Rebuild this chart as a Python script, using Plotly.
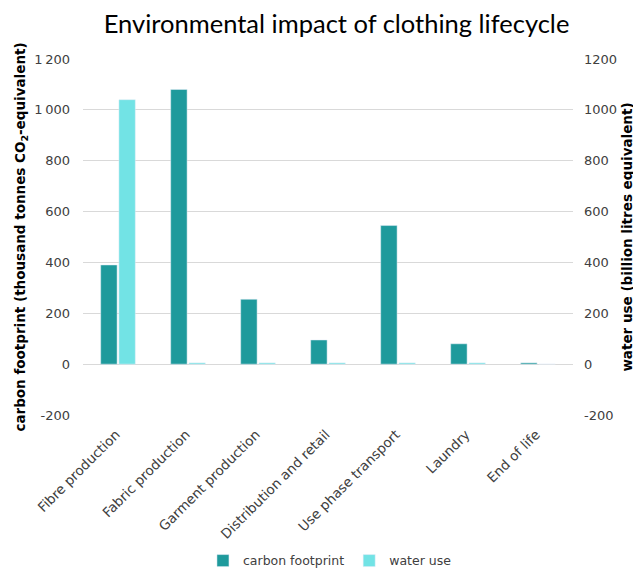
import plotly.graph_objects as go

categories = ["Fibre production", "Fabric production", "Garment production",
              "Distribution and retail", "Use phase transport", "Laundry", "End of life"]
carbon_footprint = [390, 1080, 255, 95, 545, 80, 5]
water_use = [1040, 5, 5, 5, 5, 5, 0]

tick_vals = [-200, 0, 200, 400, 600, 800, 1000, 1200]
left_tick_text = ["-200", "0", "200", "400", "600", "800", "1\u2009000", "1\u2009200"]
right_tick_text = ["-200", "0", "200", "400", "600", "800", "1000", "1200"]

CARBON = "#1e9a9c"
WATER = "#72e3e5"
FONT = "DejaVu Sans"

fig = go.Figure()
fig.add_trace(go.Bar(x=categories, y=carbon_footprint, name="carbon footprint",
                     marker=dict(color=CARBON), offsetgroup="a", yaxis="y"))
fig.add_trace(go.Bar(x=categories, y=water_use, name="water use",
                     marker=dict(color=WATER), offsetgroup="b", yaxis="y2"))

# The page body has an 8px margin, so the figure is sized to fit the 641x580 window.
fig.update_layout(
    width=633, height=572,
    margin=dict(l=75, r=68, t=51, b=165, autoexpand=False),
    paper_bgcolor="white", plot_bgcolor="white",
    barmode="group", bargap=0.48, bargroupgap=0.1,
    title=dict(text="Environmental impact of clothing lifecycle", x=0.519, xanchor="center",
               y=0.972, yanchor="middle", font=dict(family="Lato", size=25.5, color="#000000")),
    font=dict(family=FONT, size=12, color="#404040"),
    xaxis=dict(tickangle=-45, showgrid=False, showline=False, ticks="", automargin=False,
               ticklabelstandoff=8, ticklabelshift=-2,
               tickfont=dict(family=FONT, size=13.5, color="#404040")),
    yaxis=dict(range=[-200, 1200], tickvals=tick_vals, ticktext=left_tick_text,
               showgrid=True, gridcolor="#d9d9d9", gridwidth=1, automargin=False,
               zeroline=True, zerolinecolor="#d9d9d9", zerolinewidth=1,
               showline=False, ticks="", ticklabelstandoff=12,
               tickfont=dict(family=FONT, size=13, color="#404040"),
               title=dict(text="<b>carbon footprint (thousand tonnes CO<sub>2</sub>-equivalent)</b>",
                          font=dict(family=FONT, size=13.5, color="#000000"), standoff=5)),
    yaxis2=dict(range=[-200, 1200], tickvals=tick_vals, ticktext=right_tick_text,
                overlaying="y", side="right", showgrid=False, zeroline=False, automargin=False,
                showline=False, ticks="", ticklabelstandoff=10,
                tickfont=dict(family=FONT, size=13, color="#404040"),
                title=dict(text="<b>water use (billion litres equivalent)</b>",
                           font=dict(family=FONT, size=13.5, color="#000000"), standoff=6)),
    legend=dict(orientation="h", x=0.504, xanchor="center", y=-0.41, yanchor="middle",
                font=dict(family=FONT, size=12.5, color="#404040"),
                itemwidth=30, tracegroupgap=0),
)

fig.write_html("out.html")
